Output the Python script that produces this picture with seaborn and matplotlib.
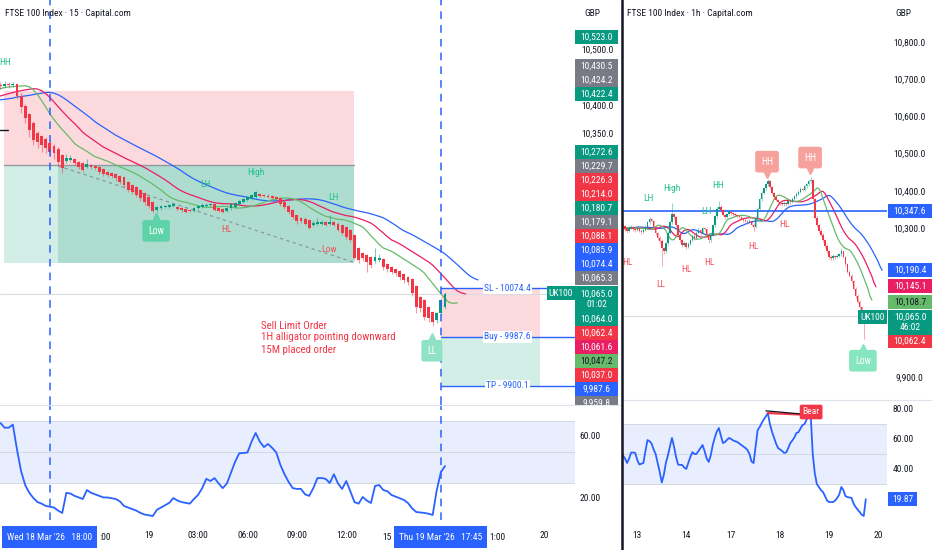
import matplotlib
matplotlib.use("Agg")
import matplotlib.pyplot as plt
import matplotlib.patches as mpatches
from matplotlib.lines import Line2D
from matplotlib import font_manager
from matplotlib.transforms import blended_transform_factory
import numpy as np
import seaborn as sns

W, H = 932, 550

# ---------------- 15 minute chart: Wed 18 Mar 15:00 -> Thu 19 Mar 18:00 ----------------
m15_open = [10438,10436,10439,10437,10440,10418,10400,10385,10370,10352,
            10346,10341,10334,10329,10323,10312,10302,10303,10305,10300,
            10298,10291,10295,10293,10291,10287,10282,10280,10278,10275,
            10273,10264,10259,10255,10250,10244,10237,10228,10214,10217,
            10219,10220,10221,10220,10218,10216,10213,10212,10217,10219,
            10222,10223,10225,10218,10216,10213,10217,10220,10225,10228,
            10232,10234,10237,10242,10241,10240,10239,10237,10236,10229,
            10222,10214,10205,10200,10199,10196,10188,10190,10190,10193,
            10189,10192,10190,10187,10184,10179,10170,10146,10137,10134,
            10130,10124,10125,10127,10118,10112,10109,10105,10100,10095,
            10091,10079,10059,10054,10041,10032,10018,10030,10041]
m15_high = [10443,10444,10442,10443,10441,10424,10403,10388,10373,10355,
            10349,10344,10337,10332,10326,10315,10315,10312,10307,10302,
            10300,10305,10297,10295,10293,10289,10284,10282,10280,10277,
            10275,10266,10261,10257,10252,10246,10239,10230,10221,10223,
            10224,10225,10227,10222,10220,10218,10215,10220,10223,10226,
            10226,10227,10227,10220,10218,10219,10227,10229,10232,10236,
            10240,10243,10248,10244,10243,10242,10241,10239,10238,10231,
            10224,10216,10207,10202,10201,10198,10195,10200,10196,10195,
            10205,10194,10192,10189,10186,10181,10172,10148,10140,10136,
            10132,10146,10135,10129,10120,10114,10111,10107,10102,10097,
            10093,10081,10061,10056,10043,10034,10033,10056,10067]
m15_low = [10431,10432,10433,10434,10412,10388,10370,10345,10330,10325,
           10318,10316,10310,10305,10292,10280,10298,10300,10295,10287,
           10283,10289,10288,10285,10278,10275,10273,10271,10266,10260,
           10255,10246,10242,10237,10231,10224,10217,10209,10211,10215,
           10217,10218,10219,10213,10211,10209,10210,10210,10215,10217,
           10220,10221,10212,10210,10209,10211,10215,10218,10223,10226,
           10230,10232,10235,10238,10237,10236,10234,10232,10222,10216,
           10207,10198,10190,10191,10187,10180,10186,10188,10188,10185,
           10187,10185,10176,10170,10163,10158,10125,10120,10124,10103,
           10111,10120,10121,10108,10104,10100,10097,10090,10084,10081,
           10060,10030,10032,10017,10014,10007,10012,10026,10038]
m15_close = [10436,10439,10437,10440,10418,10398,10379,10357,10339,10336,
             10330,10325,10318,10316,10300,10289,10307,10307,10298,10291,
             10286,10296,10291,10289,10282,10279,10277,10275,10271,10264,
             10259,10250,10246,10241,10235,10228,10221,10212,10219,10221,
             10222,10223,10225,10216,10214,10211,10212,10218,10221,10224,
             10224,10225,10214,10212,10211,10217,10225,10227,10230,10234,
             10238,10241,10246,10240,10239,10238,10236,10234,10225,10220,
             10210,10201,10194,10194,10190,10183,10191,10192,10193,10188,
             10193,10187,10179,10173,10166,10161,10129,10125,10129,10121,
             10116,10130,10129,10112,10109,10104,10102,10095,10089,10086,
             10066,10041,10039,10023,10021,10014,10030,10054,10065]
m15_rsi = [69,66,66,68,52,38,29,24,20.6,18,
           17,15.5,15,14.5,12.5,11,24,23.5,22,21,
           20,25.8,24,23,22,21,21,20.5,20,18.5,
           15.5,14.5,13.5,12.5,11,10,9.5,9,13,14.5,
           16,17.5,20.6,19,18,17.5,17,20,22.6,27,
           33,31.6,33.5,30,27,30,37,44,49.5,49.7,
           50,57,62.6,57,53.5,55.5,53,50,42,36,
           31,27,26.5,26.5,23,22,27,33.5,33.5,33,
           30.3,36,30,26.5,31.6,25,18,17,21.3,19,
           17.4,28.4,29,25.8,25,22.6,21.5,20.5,19.4,17.4,
           14,11.6,11.3,11,10.5,9.7,25.8,37.4,41.28]
# alligator values shown before the first smoothed value (jaw, teeth, lips)
m15_heads = [[10411,10412,10413,10414,10416,10417,10418,10419],
             [10418,10420,10422,10424,10426],
             [10431,10433,10434]]
m15_tick_bars = [36, 48, 60, 72, 84, 132]
m15_tick_text = ["19", "03:00", "06:00", "09:00", "12:00", "20"]
# parts of tick labels left visible beside the crosshair date boxes
m15_tick_parts = [(":00", "left"), ("15", "right"), ("1:00", "left")]
m15_price_ticks = [10500, 10400, 10350]
m15_rsi_ticks = [60, 20]
m15_tag_text = ["10,523.0","10,430.5","10,424.2","10,422.4","10,272.6","10,229.7","10,226.3",
                "10,214.0","10,180.7","10,179.1","10,088.1","10,085.9","10,074.4","10,065.3",
                "10,065.0\n01:02","10,064.0","10,062.4","10,061.6","10,047.2","10,037.0",
                "9,987.6","9,959.8"]
# drawings on the 15m chart
short_box = dict(x0=0.85, x1=85.9, top=10427, entry=10295, bottom=10120, inner=14)
trend = ([14, 85.6], [10293, 10121.5])
order = dict(x0=107, x1=131.1, sl=10074.4, buy=9987.6, tp=9900.1)
m15_green_marks = [("HH", 1.1, 10477), ("LH", 49.9, 10259), ("High", 62.1, 10282), ("LH", 81, 10237)]
m15_red_marks = [("HL", 54.8, 10179), ("Low", 79.8, 10143)]
note_lines = ["Sell Limit Order", "1H alligator pointing downward", "15M placed order"]
note_y = [10007, 9987, 9964]

# ---------------- 1 hour chart ----------------
h1_open = [10312,10308,10300,10296,10304,10306,10300,10298,10303,10296,
           10292,10298,10306,10318,10328,10322,10305,10290,10275,10268,
           10248,10240,10262,10290,10318,10340,10332,10310,10285,10270,
           10258,10262,10252,10260,10270,10282,10276,10290,10298,10290,
           10302,10300,10285,10270,10285,10310,10335,10355,10360,10350,
           10338,10333,10340,10345,10342,10340,10338,10336,10333,10328,
           10325,10322,10318,10322,10312,10305,10330,10355,10380,10398,
           10410,10420,10430,10412,10398,10385,10378,10372,10369,10366,
           10370,10368,10375,10372,10382,10388,10395,10400,10408,10405,
           10415,10420,10428,10432,10380,10330,10310,10295,10285,10270,
           10255,10240,10225,10222,10228,10224,10228,10232,10240,10225,
           10205,10185,10175,10160,10140,10120,10105,10090,10075,10060]
h1_high = [10316,10312,10304,10309,10311,10309,10304,10308,10306,10300,
           10302,10310,10322,10332,10330,10324,10308,10293,10280,10272,
           10252,10266,10294,10322,10370,10344,10334,10312,10288,10274,
           10268,10266,10264,10274,10286,10286,10294,10302,10300,10306,
           10306,10303,10289,10290,10314,10339,10359,10375,10364,10353,
           10341,10344,10350,10348,10345,10343,10341,10339,10336,10331,
           10328,10325,10326,10325,10315,10334,10359,10384,10402,10414,
           10424,10434,10432,10415,10400,10388,10381,10376,10372,10374,
           10373,10379,10378,10386,10392,10399,10404,10412,10411,10419,
           10424,10432,10440,10434,10384,10334,10314,10299,10289,10274,
           10259,10244,10229,10232,10231,10232,10236,10248,10242,10228,
           10208,10190,10178,10164,10144,10124,10109,10094,10078,10070]
h1_low = [10302,10296,10290,10293,10300,10296,10292,10295,10292,10286,
          10288,10294,10303,10314,10318,10300,10285,10270,10262,10200,
          10232,10236,10258,10286,10314,10326,10306,10280,10264,10252,
          10254,10246,10248,10256,10266,10270,10273,10286,10285,10286,
          10294,10280,10262,10266,10282,10306,10330,10352,10345,10334,
          10328,10330,10337,10338,10336,10334,10332,10329,10324,10320,
          10318,10314,10315,10308,10296,10302,10326,10350,10376,10394,
          10406,10416,10408,10394,10381,10374,10368,10365,10362,10363,
          10363,10365,10368,10370,10378,10384,10391,10396,10401,10402,
          10411,10416,10424,10376,10326,10305,10290,10280,10265,10250,
          10235,10220,10216,10218,10220,10221,10224,10228,10221,10200,
          10181,10170,10155,10135,10115,10100,10085,10070,10005,10058]
h1_close = [10308,10300,10296,10304,10306,10300,10298,10303,10296,10292,
            10298,10306,10318,10328,10322,10305,10290,10275,10268,10248,
            10240,10262,10290,10318,10340,10332,10310,10285,10270,10258,
            10262,10252,10260,10270,10282,10276,10290,10298,10290,10302,
            10300,10285,10270,10285,10310,10335,10355,10360,10350,10338,
            10333,10340,10345,10342,10340,10338,10336,10333,10328,10325,
            10322,10318,10322,10312,10305,10330,10355,10380,10398,10410,
            10420,10430,10412,10398,10385,10378,10372,10369,10366,10370,
            10368,10375,10372,10382,10388,10395,10400,10408,10405,10415,
            10420,10428,10432,10380,10330,10310,10295,10285,10270,10255,
            10240,10225,10222,10228,10224,10228,10232,10240,10225,10205,
            10185,10175,10160,10140,10120,10105,10090,10075,10060,10065]
h1_rsi = [49,47,44,47,51,51,50.7,46,43,43.5,
          44,52,59.3,58.5,57,53,50,44,38,31,
          36,44,49,55,60.7,55,48,43,42.7,42.7,
          41,40,44,48,51.3,50,50,52,54,56,
          52,47,44.7,49,56,61,65,67.3,62,57.3,
          58,59.5,60.7,60,59,58.5,58,57,56,55,
          54,52.7,50,45,44,55,66,68,70.7,73,
          75,77.3,70,65,61,57,54,53,52,50.7,
          51,54,57.3,59,61,64,64.5,67,69.3,70,
          73,75,76,50,37.3,30,28,26,24.7,22,
          19,18,18,18,19,20.7,23,28,26,22,
          21.3,21,20.7,17,14.7,13,11.3,9.5,8.7,19.87]
h1_heads = [[10302,10302,10303,10303,10304,10304,10304,10305],
            [10300,10301,10301,10302,10302],
            [10302,10302,10303]]
h1_tick_bars = [7, 31, 53, 77, 101, 125]
h1_tick_text = ["13", "14", "17", "18", "19", "20"]
h1_price_ticks = [10800, 10700, 10600, 10500, 10400, 10300, 9900]
h1_rsi_ticks = [80, 60, 40]
h1_level = 10347.6
h1_tag_text = ["10,347.6", "10,190.4", "10,145.1", "10,108.7", "10,065.0\n46:02", "10,062.4"]
h1_green_marks = [("LH", 12.7, 10383), ("High", 24, 10410), ("LH", 40.7, 10348), ("HH", 46.6, 10418)]
h1_red_marks = [("HL", 2, 10211), ("LL", 18.6, 10152), ("HL", 30.9, 10190), ("HL", 42.2, 10209),
                ("HL", 63.7, 10252), ("HL", 78.9, 10313)]
bear_line = ([70, 88], [78.8, 76.6])
bear_red = ([71, 92], [77.3, 76.0])

# ---------------- style ----------------
sns.set_theme(style="white")
names = {f.name for f in font_manager.fontManager.ttflist}
FONT = next((f for f in ["Liberation Sans Narrow", "Roboto Condensed", "Open Sans Condensed",
                         "Roboto", "DejaVu Sans"] if f in names), "DejaVu Sans")
plt.rcParams["font.family"] = [FONT, "DejaVu Sans"]

GREEN = "#089981"
RED = "#f23645"
BLUE = "#2962ff"
GRAY = "#787b86"
CRIMSON = "#e91e63"
LGREEN = "#66bb6a"
TEXT = "#131722"
MARK_G = "#22c08e"
MARK_R = "#f0525e"

fig = plt.figure(figsize=(W / 100, H / 100), dpi=100)
fig.patch.set_facecolor("white")


def add_ax(x0, y0, x1, y1):
    ax = fig.add_axes([x0 / W, 1 - y1 / H, (x1 - x0) / W, (y1 - y0) / H])
    ax.set_facecolor("none")
    for s in ax.spines.values():
        s.set_visible(False)
    ax.set_xticks([])
    ax.set_yticks([])
    return ax


def candles(ax, o, h, l, c, width, wick_lw):
    o, h, l, c = map(np.asarray, (o, h, l, c))
    idx = np.arange(len(o))
    col = np.where(c >= o, GREEN, RED)
    ax.vlines(idx, l, h, colors=col, lw=wick_lw, alpha=0.5, zorder=3)
    body = np.maximum(np.abs(c - o), 1.5)
    ax.bar(idx, body, bottom=np.minimum(o, c), width=width, color=col, lw=0, zorder=4)


def alligator(ax, h, l, heads):
    med = (np.asarray(h) + np.asarray(l)) / 2
    for (n, color), head in zip(((13, BLUE), (8, CRIMSON), (5, LGREEN)), heads):
        s = head[-1]
        vals = []
        for v in med:
            s = (s * (n - 1) + v) / n
            vals.append(s)
        y = np.concatenate([head, vals])
        sns.lineplot(x=np.arange(len(y)), y=y, ax=ax, color=color, linewidth=0.9,
                     estimator=None, sort=False, legend=False, zorder=2)


def rsi_pane(ax, vals):
    ax.axhspan(30, 70, color="#2962ff", alpha=0.1, lw=0, zorder=0)
    for lv in (30, 50, 70):
        ax.axhline(lv, color="#d3d8e2", lw=0.7, zorder=1)
    sns.lineplot(x=np.arange(len(vals)), y=vals, ax=ax, color=BLUE, linewidth=1.3,
                 estimator=None, sort=False, legend=False, zorder=3)


def tag(x0, x1, yc, text, fc, tc="white", h=14, size=6.8):
    fig.add_artist(mpatches.Rectangle((x0 / W, 1 - (yc + h / 2) / H), (x1 - x0) / W, h / H,
                                      transform=fig.transFigure, fc=fc, ec="none", zorder=5))
    fig.text((x0 + x1) / 2 / W, 1 - yc / H, text, ha="center", va="center", color=tc,
             fontsize=size, zorder=6, linespacing=1.15)


def flag(ax, x, y, tip, s, fc, marker):
    ax.text(x, y, s, color="white", fontsize=7, ha="center", va="center", zorder=8,
            bbox=dict(boxstyle="round,pad=0.6,rounding_size=0.25", fc=fc, ec="none"))
    ax.plot([x], [tip], marker=marker, color=fc, ms=5, zorder=8, lw=0)


def marks(ax, items, color):
    for s, x, y in items:
        ax.text(x, y, s, color=color, fontsize=6.8, ha="center", va="center", zorder=6)


# ---------------- left: 15 minute ----------------
axL = add_ax(0, 0, 575, 404)
axLR = add_ax(0, 404, 575, 520)
xl = (-0.12, 139.58)
axL.set_xlim(*xl)
axLR.set_xlim(*xl)
axL.set_ylim(10589.3 - 404 * 1.7857, 10589.3)
axLR.set_ylim(6.45, 81.29)

b = short_box
axL.add_patch(mpatches.Rectangle((b["x0"], b["entry"]), b["x1"] - b["x0"], b["top"] - b["entry"],
                                 fc="#fcd9dc", ec="none", zorder=1))
axL.add_patch(mpatches.Rectangle((b["x0"], b["bottom"]), b["x1"] - b["x0"], b["entry"] - b["bottom"],
                                 fc="#d3eee7", ec="none", zorder=1))
axL.add_patch(mpatches.Rectangle((b["inner"], b["bottom"]), b["x1"] - b["inner"], b["entry"] - b["bottom"],
                                 fc="#aedccf", ec="none", zorder=1))
axL.plot([b["x0"], b["x1"]], [b["entry"]] * 2, color="#9598a1", lw=1, zorder=1.5)
axL.plot(*trend, color="#8a8f99", lw=0.8, ls=(0, (3, 3)), zorder=1.5)
axL.plot([-0.1, 1.8], [10357, 10357], color=TEXT, lw=1, zorder=2)

od = order
axL.add_patch(mpatches.Rectangle((od["x0"], od["buy"]), od["x1"] - od["x0"], od["sl"] - od["buy"],
                                 fc="#fcd9dc", ec="none", zorder=1))
axL.add_patch(mpatches.Rectangle((od["x0"], od["tp"]), od["x1"] - od["x0"], od["buy"] - od["tp"],
                                 fc="#d3eee7", ec="none", zorder=1))
axL.plot([od["x0"], 133], [od["sl"]] * 2, color=BLUE, lw=1, zorder=5)
axL.plot([od["x0"], xl[1]], [od["buy"]] * 2, color=BLUE, lw=1, zorder=5)
axL.plot([od["x0"], xl[1]], [od["tp"]] * 2, color=BLUE, lw=1, zorder=5)
for name, val in (("SL", od["sl"]), ("Buy", od["buy"]), ("TP", od["tp"])):
    axL.text(123.2, val, f"{name} - {val}", color=BLUE, fontsize=6.8, ha="center", va="center",
             zorder=6, bbox=dict(boxstyle="square,pad=0.15", fc="white", ec="none"))

axL.axhline(m15_close[-1], color="#dadde3", lw=0.8, zorder=1.6)
candles(axL, m15_open, m15_high, m15_low, m15_close, 0.7, 0.8)
alligator(axL, m15_high, m15_low, m15_heads)
for ax in (axL, axLR):
    ax.axvline(12, color=BLUE, lw=1.1, ls=(0, (5, 4)), zorder=7)
    ax.axvline(107, color=BLUE, lw=1.1, ls=(0, (5, 4)), zorder=7)

marks(axL, m15_green_marks, MARK_G)
marks(axL, m15_red_marks, MARK_R)
flag(axL, 37.8, 10177, 10204, "Low", "#5ed3a9", "^")
flag(axL, 104.8, 9963, 9989, "LL", "#8fe3c4", "^")
for s, y in zip(note_lines, note_y):
    axL.text(63.3, y, s, color=RED, fontsize=7.8, ha="left", va="center", zorder=6)

rsi_pane(axLR, m15_rsi)
axLR.set_xticks(m15_tick_bars)
axLR.set_xticklabels(m15_tick_text, fontsize=6.8, color=TEXT)
axLR.tick_params(axis="x", length=0, pad=8)

# ---------------- right: 1 hour ----------------
axR = add_ax(622, 0, 887, 400)
axRR = add_ax(622, 400, 887, 520)
xr = (-0.49, 129.4)
axR.set_xlim(*xr)
axRR.set_xlim(*xr)
axR.set_ylim(10915.6 - 400 * 2.688, 10915.6)
axRR.set_ylim(6, 86)

axR.axhline(h1_level, color=BLUE, lw=1.2, zorder=2.5)
axR.axhline(h1_close[-1], color="#dadde3", lw=0.8, zorder=1.6)
candles(axR, h1_open, h1_high, h1_low, h1_close, 0.75, 0.6)
alligator(axR, h1_high, h1_low, h1_heads)
marks(axR, h1_green_marks, MARK_G)
marks(axR, h1_red_marks, MARK_R)
flag(axR, 70.6, 10481, 10445, "HH", "#f7a19c", "v")
flag(axR, 91.7, 10492, 10456, "HH", "#f7a19c", "v")
flag(axR, 117.6, 9946, 9984, "Low", "#86e6c0", "^")

rsi_pane(axRR, h1_rsi)
axRR.plot(*bear_red, color=RED, lw=1.6, zorder=4)
axRR.plot(*bear_line, color=TEXT, lw=0.9, zorder=4)
axRR.text(92.2, 78.0, "Bear", color="white", fontsize=6.8, ha="center", va="center", zorder=6,
          bbox=dict(boxstyle="round,pad=0.3,rounding_size=0.2", fc=RED, ec="none"))
axRR.set_xticks(h1_tick_bars)
axRR.set_xticklabels(h1_tick_text, fontsize=6.8, color=TEXT)
axRR.tick_params(axis="x", length=0, pad=8)

# ---------------- scales, tags, headers ----------------
for ax, ticks, xc in ((axL, m15_price_ticks, 597), (axR, h1_price_ticks, 909)):
    tr = blended_transform_factory(fig.transFigure, ax.transData)
    for v in ticks:
        fig.text(xc / W, v, f"{v:,.1f}", transform=tr, ha="center", va="center",
                 color=TEXT, fontsize=6.8, zorder=4)

tag_colors_l = [GREEN, GRAY, GRAY, GREEN, GREEN, GRAY, RED, RED, GREEN, GRAY, RED, BLUE, BLUE,
                GRAY, GREEN, GREEN, RED, CRIMSON, LGREEN, RED, BLUE, GRAY]
tag_rows_l = [37, 66, 80, 94, 152, 166, 180, 194, 208, 222, 236, 250, 264, 278, 299, 319,
              333, 347, 361, 375, 389, 403]
for txt, fc, yc in zip(m15_tag_text, tag_colors_l, tag_rows_l):
    tag(575, 618, yc, txt, fc, tc=TEXT if fc == LGREEN else "white", h=26 if "\n" in txt else 14)

tag_colors_r = [BLUE, BLUE, CRIMSON, LGREEN, GREEN, RED]
tag_rows_r = [(211, 14), (270, 14), (286, 14), (302, 14), (322.5, 25), (341.5, 13)]
for txt, fc, (yc, hh) in zip(h1_tag_text, tag_colors_r, tag_rows_r):
    tag(888, 932, yc, txt, fc, tc=TEXT if fc == LGREEN else "white", h=hh)

tag(547, 575, 293, "UK100", GREEN)
tag(858, 887, 317, "UK100", GREEN)

# cover the left scale column under the price pane
fig.add_artist(mpatches.Rectangle((575 / W, 0), 46 / W, 1 - 405 / H, transform=fig.transFigure,
                                  fc="white", ec="none", zorder=5.5))

for ax, ticks, xc, vals, (x0, x1) in ((axLR, m15_rsi_ticks, 590, m15_rsi, (575, 605)),
                                      (axRR, h1_rsi_ticks, 903, h1_rsi, (888, 917))):
    tr = blended_transform_factory(fig.transFigure, ax.transData)
    for v in ticks:
        fig.text(xc / W, v, f"{v:.2f}", transform=tr, ha="center", va="center",
                 color=TEXT, fontsize=6.8, zorder=6)
    last = vals[-1]
    yc = ax.transData.transform((0, last))[1]
    tag(x0, x1, H - yc, f"{last:.2f}", BLUE)

# crosshair date boxes with the tick-label fragments that peek out beside them
tag(2, 97, 537, "Wed 18 Mar '26   18:00", BLUE, h=22)
tag(394, 487, 537, "Thu 19 Mar '26   17:45", BLUE, h=22)
for (s, ha), xp in zip(m15_tick_parts, (99, 392, 489)):
    fig.text(xp / W, 1 - 537 / H, s, ha=ha, va="center", color=TEXT, fontsize=6.8)

fig.text(5 / W, 1 - 14 / H, "FTSE 100 Index · 15 · Capital.com", ha="left", va="center",
         color=TEXT, fontsize=6.8)
fig.text(627 / W, 1 - 14 / H, "FTSE 100 Index · 1h · Capital.com", ha="left", va="center",
         color=TEXT, fontsize=6.8)
fig.text(592 / W, 1 - 14 / H, "GBP", ha="center", va="center", color=TEXT, fontsize=6.8)
fig.text(903 / W, 1 - 14 / H, "GBP", ha="center", va="center", color=TEXT, fontsize=6.8)

fig.add_artist(Line2D([0, 621 / W], [1 - 405 / H] * 2, color="#e0e3eb", lw=0.8, zorder=6))
fig.add_artist(Line2D([622 / W, 1], [1 - 400 / H] * 2, color="#e0e3eb", lw=0.8, zorder=6))
fig.add_artist(Line2D([621.5 / W] * 2, [0, 1], color=TEXT, lw=1.8, zorder=7))

fig.savefig("out.png", dpi=100)
